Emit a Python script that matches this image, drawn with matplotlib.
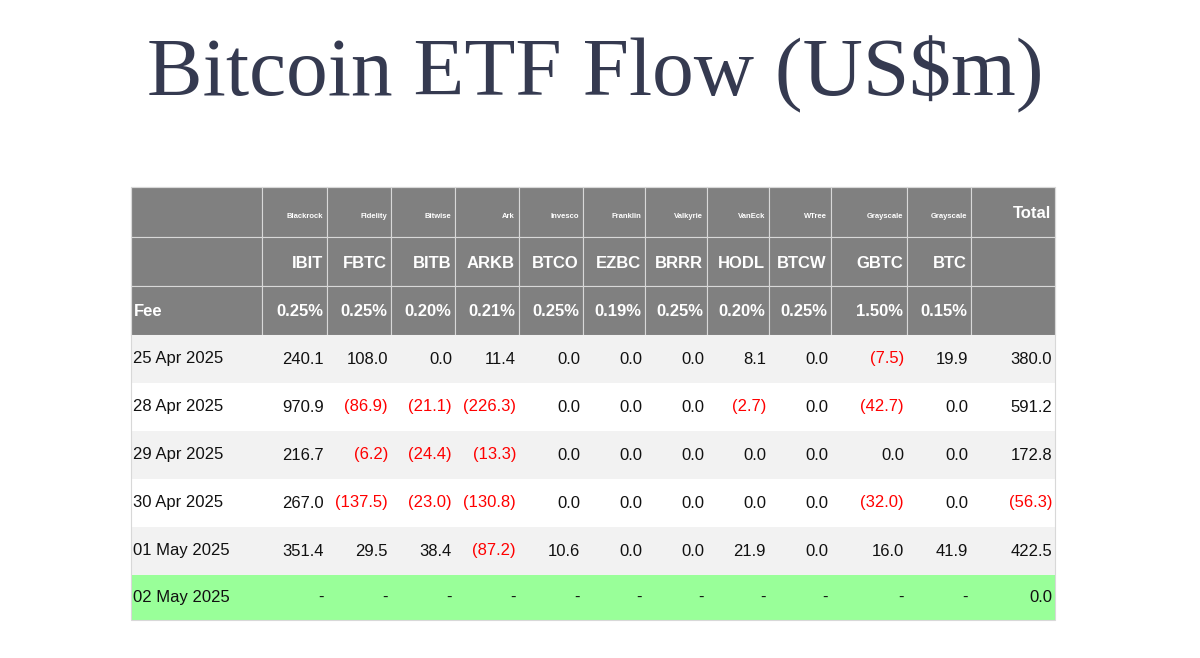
import matplotlib.pyplot as plt
from matplotlib.patches import Rectangle

# Table content
providers = ['Blackrock', 'Fidelity', 'Bitwise', 'Ark', 'Invesco', 'Franklin', 'Valkyrie',
             'VanEck', 'WTree', 'Grayscale', 'Grayscale']
tickers = ['IBIT', 'FBTC', 'BITB', 'ARKB', 'BTCO', 'EZBC', 'BRRR', 'HODL', 'BTCW', 'GBTC', 'BTC']
fees = ['0.25%', '0.25%', '0.20%', '0.21%', '0.25%', '0.19%', '0.25%', '0.20%', '0.25%', '1.50%', '0.15%']
rows = [
    ('25 Apr 2025', [240.1, 108.0, 0.0, 11.4, 0.0, 0.0, 0.0, 8.1, 0.0, -7.5, 19.9, 380.0]),
    ('28 Apr 2025', [970.9, -86.9, -21.1, -226.3, 0.0, 0.0, 0.0, -2.7, 0.0, -42.7, 0.0, 591.2]),
    ('29 Apr 2025', [216.7, -6.2, -24.4, -13.3, 0.0, 0.0, 0.0, 0.0, 0.0, 0.0, 0.0, 172.8]),
    ('30 Apr 2025', [267.0, -137.5, -23.0, -130.8, 0.0, 0.0, 0.0, 0.0, 0.0, -32.0, 0.0, -56.3]),
    ('01 May 2025', [351.4, 29.5, 38.4, -87.2, 10.6, 0.0, 0.0, 21.9, 0.0, 16.0, 41.9, 422.5]),
    ('02 May 2025', [None] * 11 + [0.0]),
]

xs = [131, 262, 327, 391, 455, 519, 583, 645, 707, 769, 831, 907, 971, 1055]
ys = [187, 237, 286, 335, 383, 431, 479, 527, 575, 620]
grey = '#808080'

plt.figure(figsize=(12, 6.58), dpi=100)
ax = plt.axes([0, 0, 1, 1])
ax.set_xlim(0, 1200)
ax.set_ylim(658, 0)
ax.axis('off')

plt.text(595, 75, r'Bitcoin ETF Flow (US\$m)', ha='center', va='center',
         fontsize=60, family='Liberation Serif', color='#353a50')

font = 'Liberation Sans'
# header block
for r in range(3):
    for c in range(len(xs) - 1):
        ax.add_patch(Rectangle((xs[c], ys[r]), xs[c + 1] - xs[c], ys[r + 1] - ys[r],
                               facecolor=grey, edgecolor='#d8d8d8', lw=0.8))
for i, name in enumerate(providers):
    plt.text(xs[i + 2] - 4, 216, name, ha='right', va='center', fontsize=5.5,
             color='white', family=font, weight='bold')
    plt.text(xs[i + 2] - 4, 263, tickers[i], ha='right', va='center', fontsize=12,
             color='white', family=font, weight='bold')
    plt.text(xs[i + 2] - 4, 312, fees[i], ha='right', va='center', fontsize=12,
             color='white', family=font, weight='bold')
plt.text(xs[-1] - 4, 214, 'Total', ha='right', va='center', fontsize=12,
         color='white', family=font, weight='bold')
plt.text(xs[0] + 3, 312, 'Fee', ha='left', va='center', fontsize=12,
         color='white', family=font, weight='bold')

# data rows
for r, (date, vals) in enumerate(rows):
    top, bot = ys[r + 3], ys[r + 4]
    if r == len(rows) - 1:
        bg = '#99ff99'
    else:
        bg = '#f2f2f2' if r % 2 == 0 else 'white'
    ax.add_patch(Rectangle((xs[0], top), xs[-1] - xs[0], bot - top, facecolor=bg, edgecolor='none'))
    mid = (top + bot) / 2
    plt.text(xs[0] + 2, mid, date, ha='left', va='center', fontsize=12, family=font, color='#111111')
    for c, v in enumerate(vals):
        if v is None:
            s, col = '-', '#111111'
        elif v < 0:
            s, col = f'({-v:.1f})', 'red'
        else:
            s, col = f'{v:.1f}', '#111111'
        plt.text(xs[c + 2] - 3, mid, s, ha='right', va='center', fontsize=12, family=font, color=col)

ax.add_patch(Rectangle((xs[0], ys[0]), xs[-1] - xs[0], ys[-1] - ys[0], facecolor='none',
                       edgecolor='#d8d8d8', lw=0.8))

plt.savefig('out.png', dpi=100)
